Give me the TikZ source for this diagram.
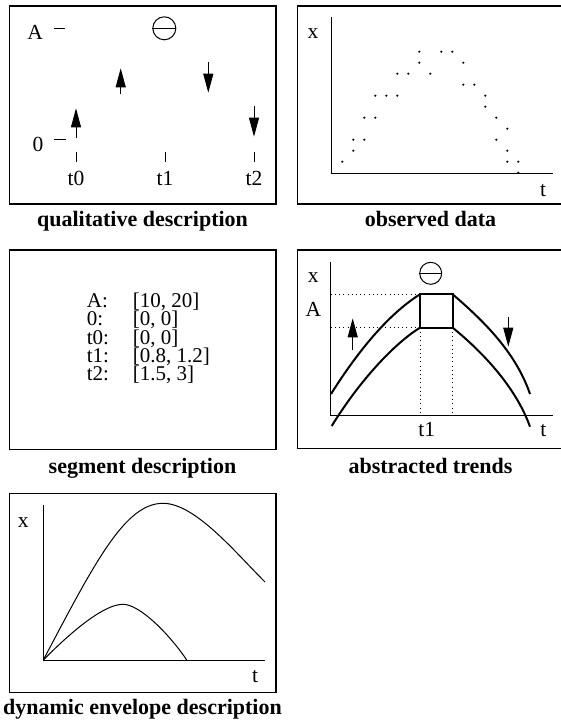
\documentclass[tikz,border=0pt]{standalone}
\usepackage{fontspec}
\setmainfont{Liberation Serif}
\usetikzlibrary{arrows.meta}
\tikzset{
  panel/.style={draw, line width=1.2pt},
  axis/.style={line width=1pt},
  lbl/.style={font=\fontsize{21.5}{21.5}\selectfont, inner sep=0pt, anchor=base},
  caption/.style={font=\fontsize{22}{22}\selectfont\bfseries, inner sep=0pt, anchor=base},
  updown/.style={-{Triangle[length=19pt,width=10pt]}, line width=1pt},
  trend/.style={line width=2pt},
  guide/.style={line width=1pt, dash pattern=on 1pt off 3.2pt},
  tick/.style={line width=1pt},
  curve/.style={line width=1pt},
  sign/.style={draw, circle, line width=1pt, minimum size=23pt, inner sep=0pt},
}

\begin{document}
\begin{tikzpicture}[x=1pt,y=-1pt]
  \useasboundingbox (0,0) rectangle (561,721);

  % qualitative description
  \draw[panel] (9.3,6) rectangle (276,204);
  \node[lbl, anchor=base east] (qA) at (43,39.3) {A};
  \node[lbl, anchor=base east] (q0) at (43.5,151.7) {0};
  \draw[tick] (54.3,28.3) -- (65,28.3);
  \draw[tick] (54.3,139.3) -- (65.7,139.3);
  \node[sign] (qsign) at (164.3,28.3) {};
  \draw[line width=1pt] (qsign.west) -- (qsign.east);
  \foreach \x/\t in {76/t0, 165/t1, 254/t2} {
    \draw[tick] (\x,151.7) -- (\x,161.7);
    \node[lbl] (q\t) at (\x,185) {\t};
  }
  \draw[updown] (76,138.3) -- (76,108.3);
  \draw[updown] (120.7,94.3) -- (120.7,68.3);
  \draw[updown] (208.3,61.7) -- (208.3,92.7);
  \draw[updown] (254,106) -- (254,136.7);
  \node[caption] (capQ) at (142.5,226) {qualitative description};

  % observed data
  \draw[panel] (297.7,6) rectangle (563,204);
  \draw[axis] (331,17) -- (331,173) -- (552.7,173);
  \node[lbl] (ox) at (313,38.3) {x};
  \node[lbl] (ot) at (543,196) {t};
  \foreach \i/\j in {0/1, 1/2, 1/3, 2/3, 2/5, 3/5, 3/7, 4/7, 5/7, 5/9, 6/9,
                     7/10, 7/11, 8/9, 9/11, 10/11, 11/10, 11/8, 12/8, 13/7,
                     13/6, 14/5, 14/3, 15/4, 15/2, 15/1, 16/1, 16/0}
    \fill ({342.3+11*\i},{172.7-11*\j}) circle (1.2);
  \node[caption] (capO) at (430.5,226) {observed data};

  % segment description
  \draw[panel] (9.3,250) rectangle (276,449.3);
  \foreach \k/\v [count=\n] in {A:/{[10, 20]}, 0:/{[0, 0]}, t0:/{[0, 0]},
                                t1:/{[0.8, 1.2]}, t2:/{[1.5, 3]}} {
    \node[lbl, font=\fontsize{21}{21}\selectfont, anchor=base west]
      (key\n) at (86.7,{307.5+18.3*(\n-1)}) {\k};
    \node[lbl, font=\fontsize{21}{21}\selectfont, anchor=base west]
      (val\n) at (132.7,{307.5+18.3*(\n-1)}) {\v};
  }
  \node[caption] (capS) at (142.5,473) {segment description};

  % abstracted trends
  \draw[panel] (297.7,250) rectangle (563,448.3);
  \draw[axis] (330.7,261.7) -- (330.7,415.7) -- (552.7,415.7);
  \node[lbl] (ax) at (313.3,282.7) {x};
  \node[lbl] (aA) at (313.3,316) {A};
  \node[lbl] (at1) at (426.7,436) {t1};
  \node[lbl] (at) at (543.3,436) {t};
  \node[sign, minimum size=22pt] (asign) at (430.7,273.3) {};
  \draw[line width=1pt] (asign.west) -- (asign.east);
  \coordinate (hiL) at (420,294.3);
  \coordinate (hiR) at (452.7,294.3);
  \coordinate (loL) at (420,327.7);
  \coordinate (loR) at (452.7,327.7);
  \draw[guide] (330.7,294.3) -- (hiL);
  \draw[guide] (330.7,327.7) -- (loL);
  \draw[guide] (loL) -- (420,415.7);
  \draw[guide] (loR) -- (452.7,415.7);
  \draw[trend] (hiL) rectangle (loR);
  \draw[trend] (331,394) .. controls (365,340) and (395,310) .. (hiL);
  \draw[trend] (331.7,426) .. controls (360,380) and (395,343) .. (loL);
  \draw[trend] (hiR) .. controls (480,318) and (515,350) .. (530,394);
  \draw[trend] (loR) .. controls (480,350) and (515,385) .. (530,426.7);
  \draw[updown] (352.7,350) -- (352.7,318.3);
  \draw[updown] (508.3,316.7) -- (508.3,346.7);
  \node[caption] (capA) at (430.5,473) {abstracted trends};

  % dynamic envelope description
  \draw[panel] (9.3,493.3) rectangle (276,692.7);
  \draw[axis] (43.3,505) -- (43.3,660) -- (265,660);
  \node[lbl] (dx) at (23.3,527.3) {x};
  \node[lbl] (dt) at (255,682) {t};
  \draw[curve] (43.3,660) .. controls (95,562) and (125,503.3) .. (163,503.3)
               .. controls (195,503.3) and (235,552) .. (265,582);
  \draw[curve] (43.3,660) .. controls (75,628) and (105,604.3) .. (123,604.3)
               .. controls (140,604.3) and (170,635) .. (186.7,660);
  \node[caption] (capD) at (142.5,714) {dynamic envelope description};
\end{tikzpicture}
\end{document}
